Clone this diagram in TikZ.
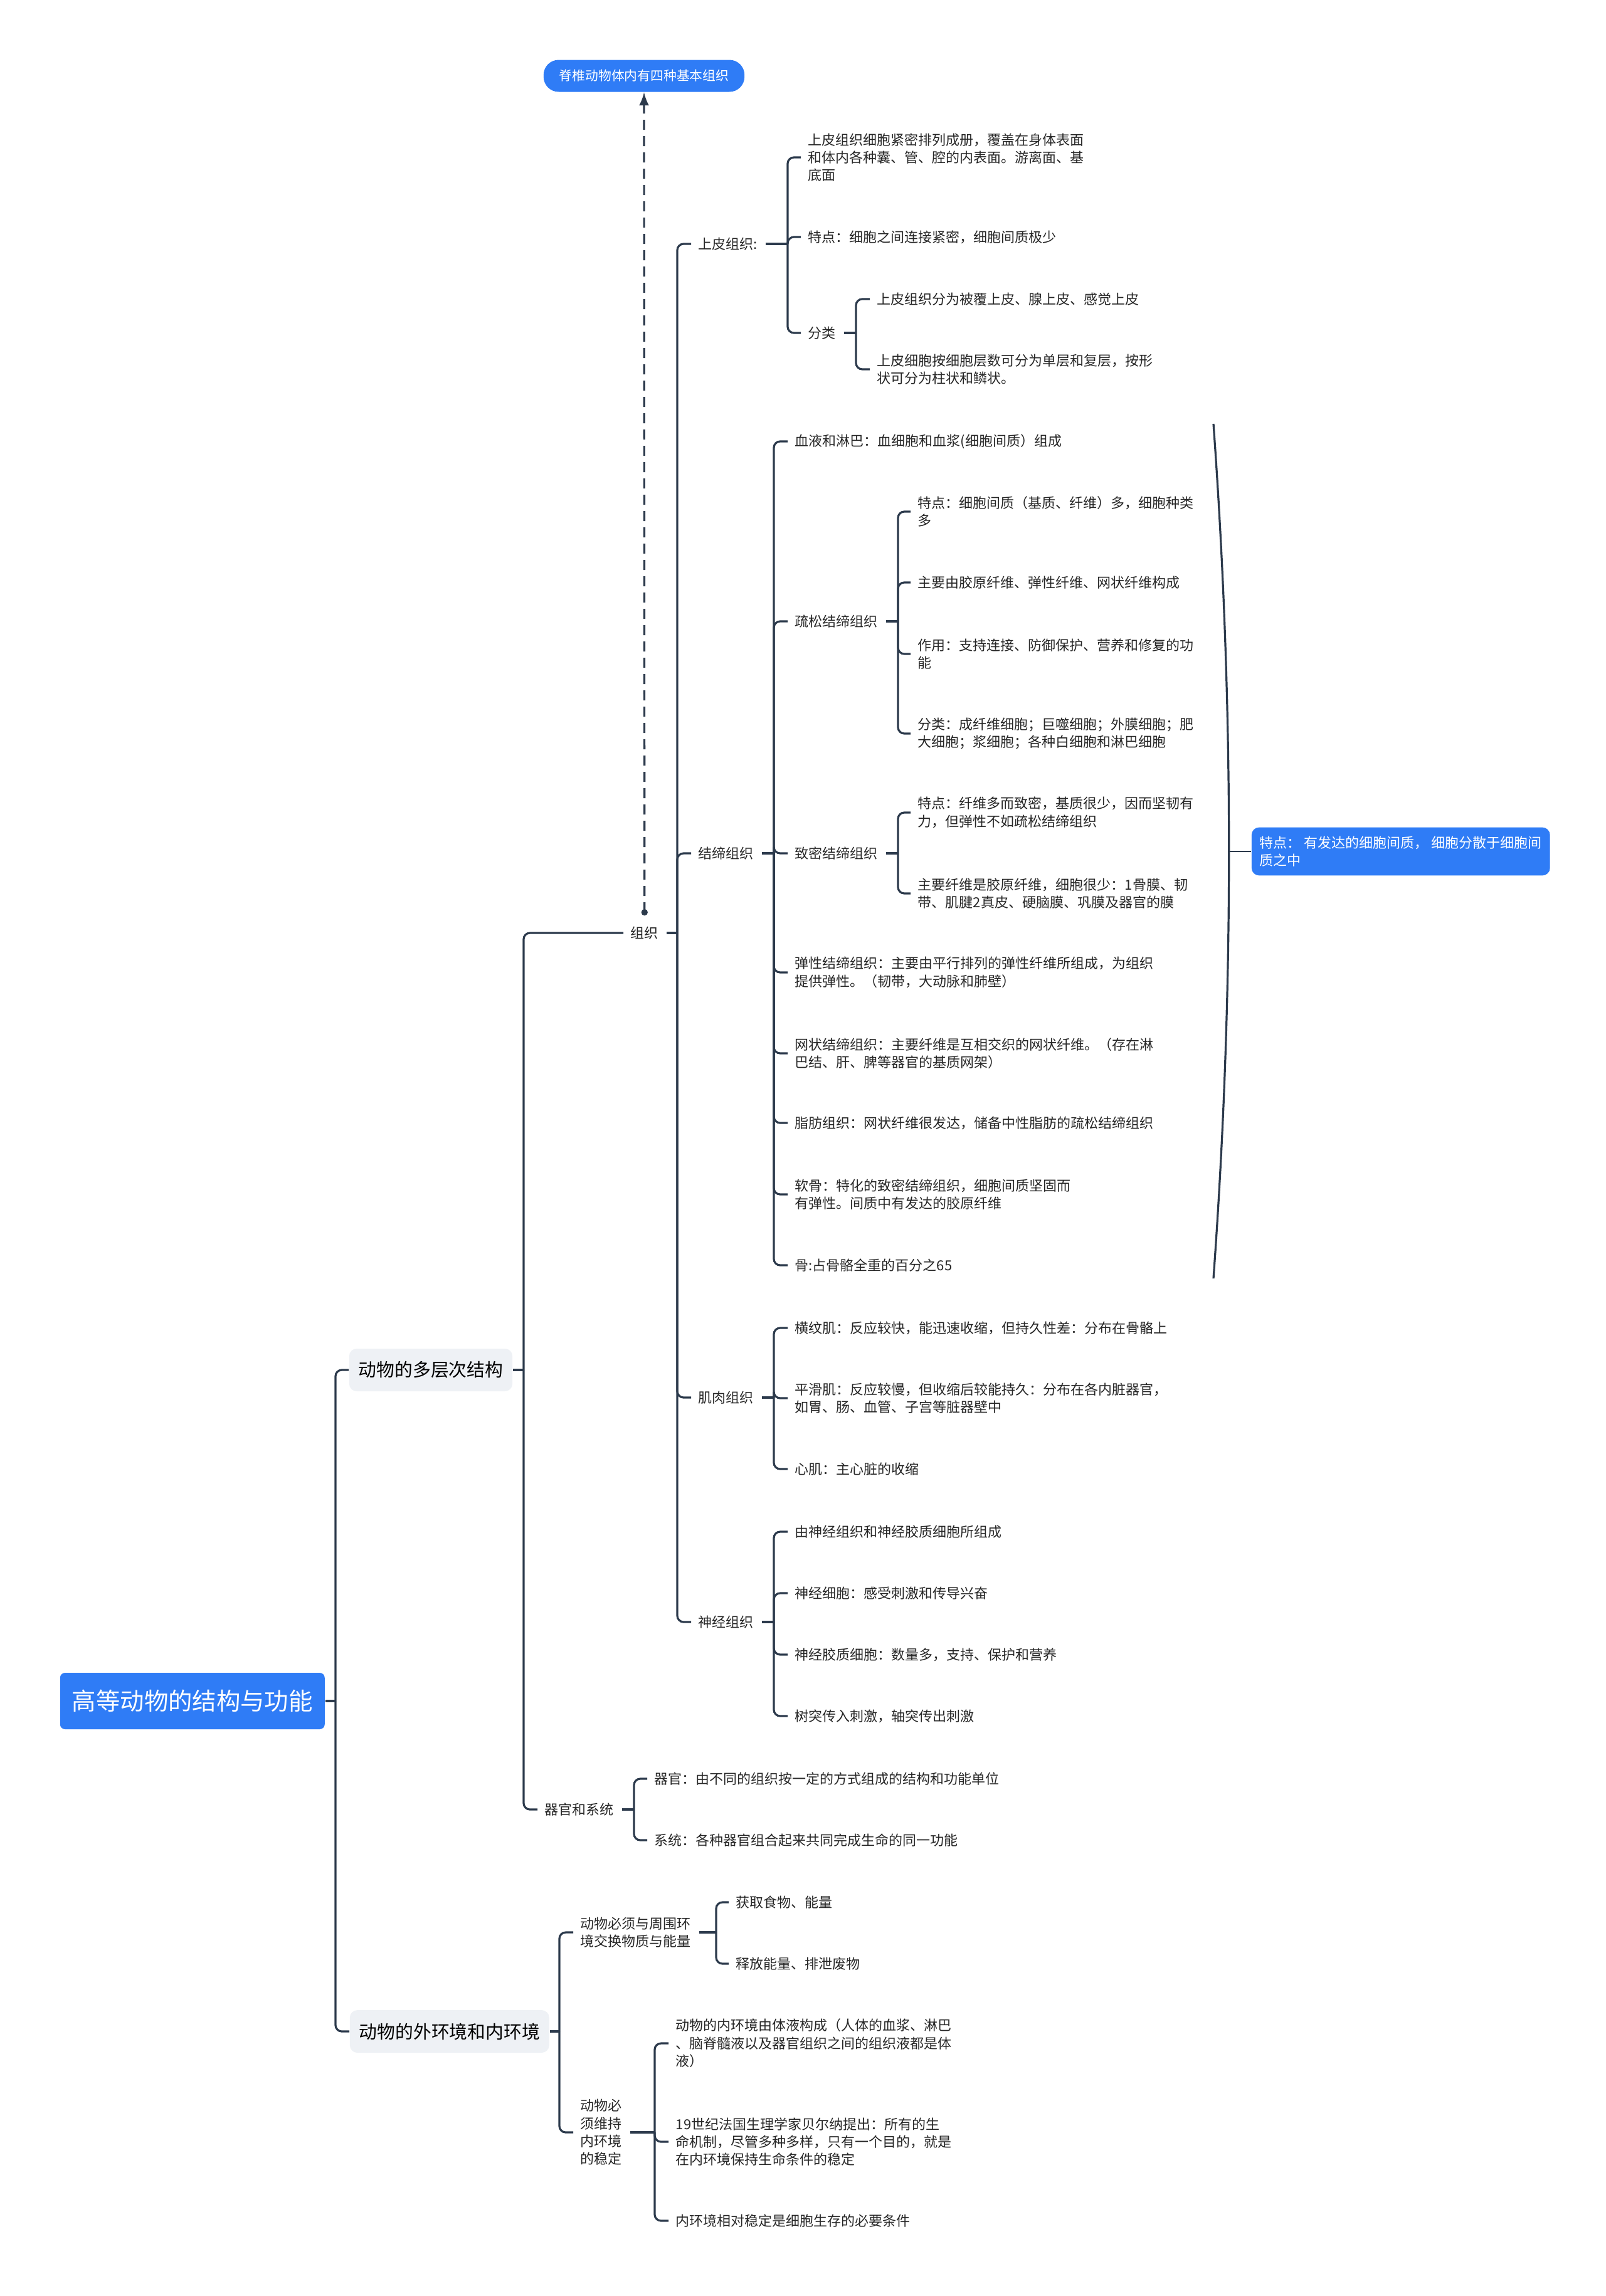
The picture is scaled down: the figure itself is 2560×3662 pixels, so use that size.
\documentclass[tikz,border=0pt]{standalone}
\usepackage{fontspec}
\setmainfont{Noto Sans CJK SC}

\definecolor{mapblue}{HTML}{2F7CF6}
\definecolor{mapgray}{HTML}{EEF1F5}
\definecolor{mapline}{HTML}{2C3A4C}
\definecolor{maptext}{HTML}{262626}

\newcommand\leaffont{\fontsize{5.5pt}{7.1pt}\selectfont}
\newcommand\branchfont{\fontsize{7.2pt}{8.6pt}\selectfont}
\newcommand\rootfont{\fontsize{9.6pt}{11pt}\selectfont}
\newcommand\topfont{\fontsize{5.2pt}{6.4pt}\selectfont}

\begin{document}
\begin{tikzpicture}[
        x=0.25pt, y=-0.25pt,
        leaf/.style={anchor=west, inner sep=0pt, align=left, text=maptext, font=\leaffont},
        rootbox/.style={anchor=west, fill=mapblue, text=white, rounded corners=2pt,
            inner xsep=4.75pt, minimum height=22.5pt, font=\rootfont},
        mainbox/.style={anchor=west, fill=mapgray, text=black, rounded corners=3pt,
            inner xsep=3.75pt, minimum height=17pt, font=\branchfont},
        topbox/.style={fill=mapblue, text=white, rounded corners=6pt,
            inner xsep=6.25pt, minimum height=12.75pt, font=\topfont},
        tipbox/.style={anchor=west, fill=mapblue, text=white, rounded corners=3pt,
            align=left, inner xsep=3.25pt, inner ysep=3.5pt, font=\leaffont},
        branch/.style={draw=mapline, line width=0.8pt, rounded corners=2.5pt},
        dashlink/.style={draw=mapline, line width=0.8pt, dash pattern=on 4pt off 2.5pt, -latex}
    ]
    \useasboundingbox (0,0) rectangle (2560,3662);

    % root and main branches
    \node[rootbox] (root) at (95,2713) {高等动物的结构与功能};
    \node[mainbox] (ms) at (556,2185) {动物的多层次结构};
    \node[mainbox] (env) at (557,3240) {动物的外环境和内环境};

    % 动物的多层次结构
    \node[leaf] (zz) at (1005,1488) {组织};
    \node[leaf] (qg) at (868,2886) {器官和系统};

    \node[leaf] (sp) at (1113,389) {上皮组织:};
    \node[leaf] (jd) at (1113,1361) {结缔组织};
    \node[leaf] (jr) at (1113,2229) {肌肉组织};
    \node[leaf] (sj) at (1113,2587) {神经组织};

    \node[leaf] (sp1) at (1288,251) {上皮组织细胞紧密排列成册，覆盖在身体表面\\和体内各种囊、管、腔的内表面。游离面、基\\底面};
    \node[leaf] (sp2) at (1288,378) {特点：细胞之间连接紧密，细胞间质极少};
    \node[leaf] (sp3) at (1288,531) {分类};
    \node[leaf] (sp31) at (1398,477) {上皮组织分为被覆上皮、腺上皮、感觉上皮};
    \node[leaf] (sp32) at (1398,589) {上皮细胞按细胞层数可分为单层和复层，按形\\状可分为柱状和鳞状。};

    \node[leaf] (jd1) at (1267,704) {血液和淋巴：血细胞和血浆(细胞间质）组成};
    \node[leaf] (jd2) at (1267,991) {疏松结缔组织};
    \node[leaf] (jd21) at (1463,816) {特点：细胞间质（基质、纤维）多，细胞种类\\多};
    \node[leaf] (jd22) at (1463,929) {主要由胶原纤维、弹性纤维、网状纤维构成};
    \node[leaf] (jd23) at (1463,1043) {作用：支持连接、防御保护、营养和修复的功\\能};
    \node[leaf] (jd24) at (1463,1170) {分类：成纤维细胞；巨噬细胞；外膜细胞；肥\\大细胞；浆细胞；各种白细胞和淋巴细胞};
    \node[leaf] (jd3) at (1267,1361) {致密结缔组织};
    \node[leaf] (jd31) at (1463,1296) {特点：纤维多而致密，基质很少，因而坚韧有\\力，但弹性不如疏松结缔组织};
    \node[leaf] (jd32) at (1463,1425) {主要纤维是胶原纤维，细胞很少：1骨膜、韧\\带、肌腱2真皮、硬脑膜、巩膜及器官的膜};
    \node[leaf] (jd4) at (1267,1551) {弹性结缔组织：主要由平行排列的弹性纤维所组成，为组织\\提供弹性。（韧带，大动脉和肺壁）};
    \node[leaf] (jd5) at (1267,1680) {网状结缔组织：主要纤维是互相交织的网状纤维。（存在淋\\巴结、肝、脾等器官的基质网架）};
    \node[leaf] (jd6) at (1267,1791) {脂肪组织：网状纤维很发达，储备中性脂肪的疏松结缔组织};
    \node[leaf] (jd7) at (1267,1905) {软骨：特化的致密结缔组织，细胞间质坚固而\\有弹性。间质中有发达的胶原纤维};
    \node[leaf] (jd8) at (1267,2018) {骨:占骨骼全重的百分之65};

    \node[leaf] (jr1) at (1267,2118) {横纹肌：反应较快，能迅速收缩，但持久性差：分布在骨骼上};
    \node[leaf] (jr2) at (1267,2230) {平滑肌：反应较慢，但收缩后较能持久：分布在各内脏器官，\\如胃、肠、血管、子宫等脏器壁中};
    \node[leaf] (jr3) at (1267,2343) {心肌：主心脏的收缩};

    \node[leaf] (sj1) at (1267,2443) {由神经组织和神经胶质细胞所组成};
    \node[leaf] (sj2) at (1267,2541) {神经细胞：感受刺激和传导兴奋};
    \node[leaf] (sj3) at (1267,2639) {神经胶质细胞：数量多，支持、保护和营养};
    \node[leaf] (sj4) at (1267,2737) {树突传入刺激，轴突传出刺激};

    \node[leaf] (qg1) at (1043,2837) {器官：由不同的组织按一定的方式组成的结构和功能单位};
    \node[leaf] (qg2) at (1043,2935) {系统：各种器官组合起来共同完成生命的同一功能};

    % 动物的外环境和内环境
    \node[leaf] (wj) at (925,3082) {动物必须与周围环\\境交换物质与能量};
    \node[leaf] (wj1) at (1173,3034) {获取食物、能量};
    \node[leaf] (wj2) at (1173,3132) {释放能量、排泄废物};
    \node[leaf] (nj) at (925,3401) {动物必\\须维持\\内环境\\的稳定};
    \node[leaf] (nj1) at (1077,3259) {动物的内环境由体液构成（人体的血浆、淋巴\\、脑脊髓液以及器官组织之间的组织液都是体\\液）};
    \node[leaf] (nj2) at (1077,3416) {19世纪法国生理学家贝尔纳提出：所有的生\\命机制，尽管多种多样，只有一个目的，就是\\在内环境保持生命条件的稳定};
    \node[leaf] (nj3) at (1077,3542) {内环境相对稳定是细胞生存的必要条件};

    % spine junctions
    \coordinate (rootS) at (535,2713);
    \coordinate (msS) at (835,2185);
    \coordinate (envS) at (892,3240);
    \coordinate (zzS) at (1080,1488);
    \coordinate (qgS) at (1011,2886);
    \coordinate (spS) at (1256,389);
    \coordinate (sp3S) at (1365,531);
    \coordinate (jdS) at (1234,1361);
    \coordinate (jd2S) at (1432,991);
    \coordinate (jd3S) at (1432,1361);
    \coordinate (jrS) at (1234,2229);
    \coordinate (sjS) at (1234,2587);
    \coordinate (wjS) at (1142,3082);
    \coordinate (njS) at (1044,3401);

    % connectors
    \draw[branch] (root.east) -- (rootS);
    \foreach \c in {ms,env} \draw[branch] (rootS) |- (\c.west);
    \draw[branch] (ms.east) -- (msS);
    \draw[branch] (env.east) -- (envS);
    \foreach \p in {zz,qg,sp,sp3,jd,jd2,jd3,jr,sj,wj,nj}
        \draw[branch] ([shift={(12,0)}]\p.east) -- (\p S);

    \foreach \c in {zz,qg} \draw[branch] (msS) |- ([shift={(-11,0)}]\c.west);
    \foreach \c in {sp,jd,jr,sj} \draw[branch] (zzS) |- ([shift={(-11,0)}]\c.west);
    \foreach \c in {sp1,sp2,sp3} \draw[branch] (spS) |- ([shift={(-11,0)}]\c.west);
    \foreach \c in {sp31,sp32} \draw[branch] (sp3S) |- ([shift={(-11,0)}]\c.west);
    \foreach \c in {jd1,jd2,jd3,jd4,jd5,jd6,jd7,jd8} \draw[branch] (jdS) |- ([shift={(-11,0)}]\c.west);
    \foreach \c in {jd21,jd22,jd23,jd24} \draw[branch] (jd2S) |- ([shift={(-11,0)}]\c.west);
    \foreach \c in {jd31,jd32} \draw[branch] (jd3S) |- ([shift={(-11,0)}]\c.west);
    \foreach \c in {jr1,jr2,jr3} \draw[branch] (jrS) |- ([shift={(-11,0)}]\c.west);
    \foreach \c in {sj1,sj2,sj3,sj4} \draw[branch] (sjS) |- ([shift={(-11,0)}]\c.west);
    \foreach \c in {qg1,qg2} \draw[branch] (qgS) |- ([shift={(-11,0)}]\c.west);
    \foreach \c in {wj,nj} \draw[branch] (envS) |- ([shift={(-11,0)}]\c.west);
    \foreach \c in {wj1,wj2} \draw[branch] (wjS) |- ([shift={(-11,0)}]\c.west);
    \foreach \c in {nj1,nj2,nj3} \draw[branch] (njS) |- ([shift={(-11,0)}]\c.west);

    % link up to the top note
    \node[topbox] (top) at (1027,121) {脊椎动物体内有四种基本组织};
    \coordinate (zzdot) at ([shift={(0,-22)}]zz.north);
    \draw[dashlink] (zzdot) -- (top.south);
    \fill[mapline] (zzdot) circle (1.3pt);

    % summary of 结缔组织
    \coordinate (brkA) at (1935,676);
    \coordinate (brkB) at (1935,2039);
    \coordinate (brk) at (1960,1358);
    \node[tipbox] (note) at (1995,1358) {特点： 有发达的细胞间质， 细胞分散于细胞间\\质之中};
    \draw[branch] (brkA) .. controls (1968,1130) and (1968,1585) .. (brkB);
    \draw[draw=mapline, line width=0.5pt] (brk) -- (note.west);
\end{tikzpicture}
\end{document}
